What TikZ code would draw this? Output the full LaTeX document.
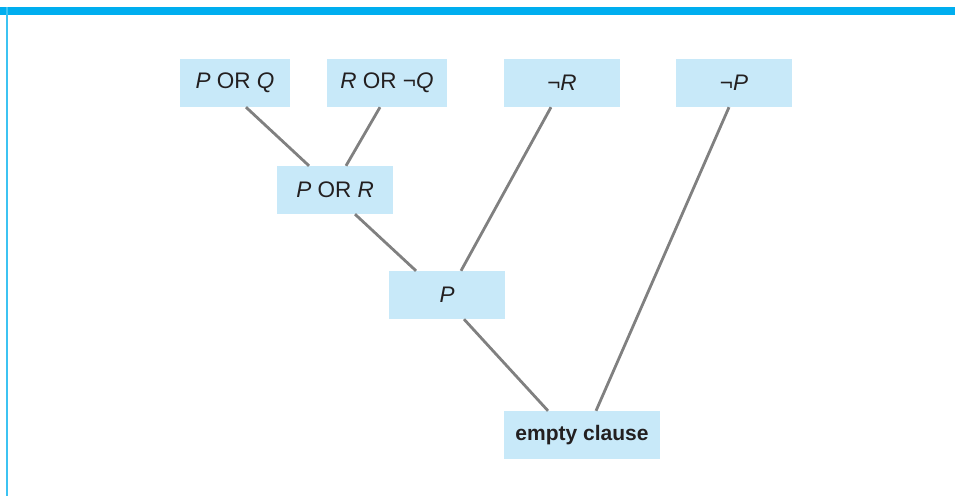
\documentclass[tikz,border=0pt]{standalone}
\usepackage{fontspec}
\setmainfont{Liberation Sans}
\definecolor{boxblue}{HTML}{C8E9F9}
\definecolor{barblue}{HTML}{00AEEF}
\definecolor{edgeblue}{HTML}{3CC3F2}
\definecolor{linegray}{HTML}{808080}
\definecolor{textgray}{HTML}{231F20}
\tikzset{
  clause/.style={fill=boxblue,minimum height=48pt,minimum width=116pt,
    inner sep=0pt,text=textgray,font=\fontsize{22.5}{26}\selectfont},
  link/.style={draw=linegray,line width=2.8pt}
}
\begin{document}
\begin{tikzpicture}[x=1pt,y=-1pt]

\useasboundingbox (0,0) rectangle (955,496);

% frame
\fill[barblue] (0,7) rectangle (955,15);
\fill[edgeblue] (6,7) rectangle (8,496);

% clauses
\node[clause,minimum width=110pt] (pq) at (235,83) {\textit{P} OR \textit{Q}};
\node[clause,minimum width=120pt] (rnq) at (387,83) {\textit{R} OR ¬\textit{Q}};
\node[clause] (nr) at (562,83) {¬\textit{R}};
\node[clause] (np) at (734,83) {¬\textit{P}};

\node[clause] (por) at (335,190) {\textit{P} OR \textit{R}};
\node[clause] (p) at (447,295) {\textit{P}};

\node[clause,minimum width=156pt,font=\fontsize{21}{25}\selectfont]
(empty) at (582,435) {\textbf{empty clause}};

% resolution steps
\draw[link] ([xshift=11pt]pq.south) -- ([xshift=-26pt]por.north);
\draw[link] ([xshift=-7pt]rnq.south) -- ([xshift=11pt]por.north);

\draw[link] ([xshift=20pt]por.south) -- ([xshift=-31pt]p.north);
\draw[link] ([xshift=-11pt]nr.south) -- ([xshift=14pt]p.north);

\draw[link] ([xshift=17pt]p.south) -- ([xshift=-34pt]empty.north);
\draw[link] ([xshift=-5pt]np.south) -- ([xshift=14pt]empty.north);

\end{tikzpicture}
\end{document}
